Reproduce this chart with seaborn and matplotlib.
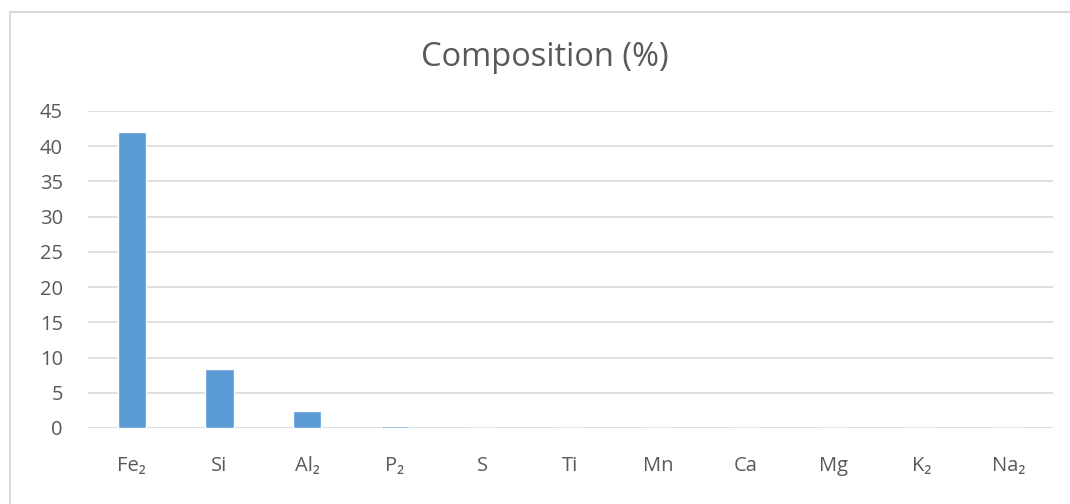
import matplotlib
matplotlib.use("Agg")
import matplotlib.pyplot as plt
import seaborn as sns
import pandas as pd
from matplotlib.patches import Rectangle

elements = ["Fe₂", "Si", "Al₂", "P₂", "S", "Ti", "Mn", "Ca", "Mg", "K₂", "Na₂"]
composition = [42.0, 8.35, 2.4, 0.25, 0.02, 0.02, 0.06, 0.02, 0.02, 0.01, 0.01]
yticks = [0, 5, 10, 15, 20, 25, 30, 35, 40, 45]

df = pd.DataFrame({"element": elements, "composition": composition})

sns.set_theme(style="white")
plt.rcParams["font.family"] = ["Open Sans", "DejaVu Sans"]

fig = plt.figure(figsize=(10.70, 5.04), dpi=100)
ax = fig.add_axes([0.0822, 0.1508, 0.9018, 0.629])

sns.barplot(data=df, x="element", y="composition", color="#5B9BD5",
            width=0.32, saturation=1, ax=ax)

ax.set_ylim(0, 45)
ax.set_xlim(-0.5, len(elements) - 0.5)
ax.set_yticks(yticks)
ax.yaxis.grid(True, color="#d9d9d9", linewidth=1.2)
ax.set_axisbelow(True)
for s in ax.spines.values():
    s.set_visible(False)
ax.tick_params(axis="both", length=0, labelsize=14.5, colors="#595959")
ax.tick_params(axis="x", pad=20)
ax.tick_params(axis="y", pad=18)
ax.set_xlabel("")
ax.set_ylabel("")

fig.text(0.509, 0.885, "Composition (%)", ha="center", va="center",
         fontsize=23.5, color="#595959")

# chart frame
fig.patches.append(Rectangle((10 / 1070, -0.1), 1.2, (504 - 12) / 504 + 0.1,
                             transform=fig.transFigure, fill=False,
                             edgecolor="#d9d9d9", linewidth=1.5))

fig.savefig("out.png", dpi=100)
